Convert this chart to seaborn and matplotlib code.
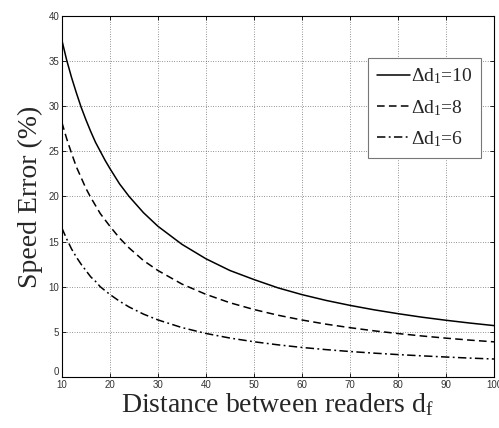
import matplotlib
matplotlib.use("Agg")
import matplotlib.pyplot as plt
import seaborn as sns
import pandas as pd

# Data
distance = [10, 11, 12, 13, 14, 15, 16, 17, 18, 19, 20, 22, 24, 27, 30,
            35, 40, 45, 50, 55, 60, 65, 70, 75, 80, 85, 90, 95, 100]
err_d10 = [37.3, 35.1, 33.2, 31.5, 29.9, 28.5, 27.2, 26.0, 25.0, 24.0, 23.1, 21.4, 20.0, 18.2, 16.7,
           14.7, 13.1, 11.8, 10.8, 9.88, 9.13, 8.49, 7.94, 7.45, 7.02, 6.63, 6.29, 5.98, 5.70]
err_d8 = [28.2, 26.4, 24.8, 23.3, 22.1, 20.9, 19.9, 19.0, 18.1, 17.4, 16.7, 15.4, 14.3, 12.9, 11.8,
          10.3, 9.16, 8.23, 7.48, 6.85, 6.32, 5.86, 5.47, 5.12, 4.82, 4.55, 4.31, 4.09, 3.90]
err_d6 = [16.5, 15.3, 14.2, 13.3, 12.5, 11.8, 11.1, 10.6, 10.0, 9.57, 9.15, 8.40, 7.76, 6.97, 6.33,
          5.48, 4.83, 4.32, 3.91, 3.57, 3.28, 3.04, 2.83, 2.65, 2.49, 2.35, 2.22, 2.10, 2.00]
series_labels = [r"Δd$_1$=10", r"Δd$_1$=8", r"Δd$_1$=6"]
x_ticks = [10, 20, 30, 40, 50, 60, 70, 80, 90, 100]
y_ticks = [0, 5, 10, 15, 20, 25, 30, 35, 40]

sns.set_theme(style="white")
plt.rcParams["font.family"] = ["Liberation Serif", "DejaVu Serif"]
plt.rcParams["mathtext.fontset"] = "custom"
plt.rcParams["mathtext.rm"] = "Liberation Serif"
plt.rcParams["mathtext.it"] = "Liberation Serif:italic"
plt.rcParams["mathtext.bf"] = "Liberation Serif:bold"

fig = plt.figure(figsize=(4.99, 4.28), dpi=100)
ax = fig.add_axes([0.124, 0.119, 0.866, 0.844])

df = pd.DataFrame({"distance": distance, "d10": err_d10, "d8": err_d8, "d6": err_d6})
styles = ["-", (0, (5.0, 2.8)), (0, (5.5, 2.2, 1.2, 2.2))]
for col, lab, ls in zip(["d10", "d8", "d6"], series_labels, styles):
    sns.lineplot(data=df, x="distance", y=col, ax=ax, color="black", linewidth=1.1,
                 linestyle=ls, label=lab)

ax.set_xlim(10, 100)
ax.set_ylim(0, 40)
ax.set_xticks(x_ticks)
ax.set_yticks(y_ticks)
ax.set_xticklabels([str(t) for t in x_ticks])
ax.set_yticklabels([str(t) for t in y_ticks])
for lbl in ax.get_xticklabels() + ax.get_yticklabels():
    lbl.set_fontfamily("Liberation Sans")
    lbl.set_fontsize(7)
    lbl.set_color("#333333")
ax.get_yticklabels()[0].set_verticalalignment("bottom")

ax.grid(True, color="#333333", linestyle=(0, (1, 2.5)), linewidth=0.5)
for s in ax.spines.values():
    s.set_visible(True)
    s.set_color("black")
    s.set_linewidth(0.8)
ax.tick_params(direction="in", length=3, width=0.6, top=True, right=True,
               bottom=True, left=True, pad=2, colors="black", labelcolor="#333333")

ax.set_xlabel(r"Distance between readers d$_\mathrm{f}$", fontsize=20, labelpad=1)
ax.set_ylabel("Speed Error (%)", fontsize=20, labelpad=4)

leg = ax.legend(loc="upper right", bbox_to_anchor=(0.970, 0.884), borderaxespad=0,
                fontsize=14, frameon=True, fancybox=False, framealpha=1,
                handlelength=1.7, handletextpad=0.05, labelspacing=0.6,
                borderpad=0.45)
leg.get_frame().set_edgecolor("#777777")
leg.get_frame().set_linewidth(0.8)

fig.savefig("out.png", dpi=100)
